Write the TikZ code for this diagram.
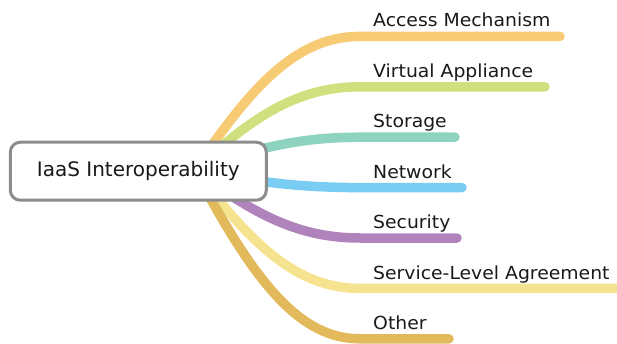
\documentclass[tikz,border=0pt]{standalone}
\usepackage{fontspec}
\setmainfont{DejaVu Sans}
\newfontfamily\leaffont[FakeStretch=1.045]{DejaVu Sans}
\begin{document}
\begin{tikzpicture}[x=1pt,y=-1pt,
  branch/.style={line width=9.5pt,line cap=round},
  rootbox/.style={draw=black!45,line width=3pt,fill=white,rounded corners=10pt,
    minimum width=256pt,minimum height=58pt,inner sep=0pt,font=\fontsize{20}{24}\selectfont,text=black!90},
  leaf/.style={anchor=base west,inner sep=0pt,font=\leaffont\fontsize{18}{22}\selectfont,text=black!90}]
\definecolor{cAccess}{HTML}{F7CB74}
\definecolor{cVirtual}{HTML}{CFE17F}
\definecolor{cStorage}{HTML}{8DD3BF}
\definecolor{cNetwork}{HTML}{7ACDF2}
\definecolor{cSecurity}{HTML}{B083BC}
\definecolor{cSLA}{HTML}{F6E390}
\definecolor{cOther}{HTML}{E2B95B}
\useasboundingbox (0,0) rectangle (617,343);

% hub behind the central box where all branches meet
\coordinate (hub) at (195,170);

% branch ends
\coordinate (eA) at (560,36.4);
\coordinate (eV) at (545,86.8);
\coordinate (eS) at (455,137.2);
\coordinate (eN) at (462,187.6);
\coordinate (eSe) at (457,238);
\coordinate (eL) at (630,288.4);
\coordinate (eO) at (449,338.8);

% curved branches: S-curve from hub, then flat run under each label
\draw[branch,cAccess]   (hub) .. controls (255,80.2)  and (300,36.4)  .. (360,36.4)  -- (eA);
\draw[branch,cVirtual]  (hub) .. controls (255,114)   and (300,86.8)  .. (360,86.8)  -- (eV);
\draw[branch,cStorage]  (hub) .. controls (255,148)   and (300,137.2) .. (360,137.2) -- (eS);
\draw[branch,cNetwork]  (hub) .. controls (255,182)   and (300,187.6) .. (360,187.6) -- (eN);
\draw[branch,cSecurity] (hub) .. controls (255,215.5) and (300,238)   .. (360,238)   -- (eSe);
\draw[branch,cSLA]      (hub) .. controls (255,249.5) and (300,288.4) .. (360,288.4) -- (eL);
\draw[branch,cOther]    (hub) .. controls (255,283.5) and (300,338.8) .. (360,338.8) -- (eO);

% central topic
\node[rootbox] (root) at (138.3,171.2) {IaaS Interoperability};

% branch labels
\node[leaf] (lA)  at (373,26.7)  {Access Mechanism};
\node[leaf] (lV)  at (373,77.3)  {Virtual Appliance};
\node[leaf] (lS)  at (373,127.7) {Storage};
\node[leaf] (lN)  at (373,178.1) {Network};
\node[leaf] (lSe) at (373,228.5) {Security};
\node[leaf] (lL)  at (373,279)   {Service-Level Agreement};
\node[leaf] (lO)  at (373,329.3) {Other};
\end{tikzpicture}
\end{document}
